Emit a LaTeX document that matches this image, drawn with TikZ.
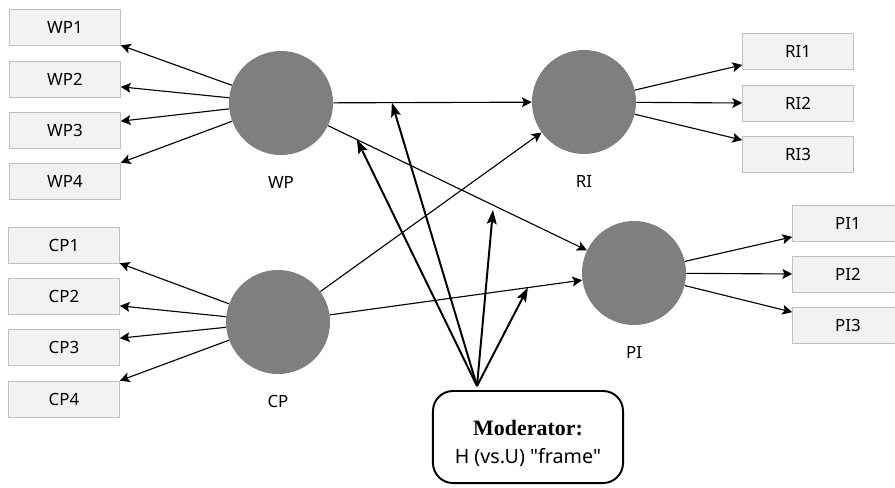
\documentclass[tikz,border=0pt]{standalone}
\usepackage{fontspec}
\setmainfont{Noto Sans}
\newfontfamily\modfont{Liberation Serif}
\usetikzlibrary{arrows.meta,calc}
\definecolor{latent}{RGB}{127,127,127}
\definecolor{boxfill}{RGB}{242,242,242}
\definecolor{boxline}{RGB}{192,192,192}
\tikzset{
  ind/.style={draw=boxline,fill=boxfill,minimum width=2.775cm,minimum height=0.9cm,inner sep=0pt},
  lat/.style={circle,fill=latent,minimum size=2.6cm,inner sep=0pt},
  link/.style={line width=0.8pt,-{Stealth[length=7pt,width=7pt,inset=1.5pt]}},
  modlink/.style={line width=1.4pt,-{Stealth[length=10pt,width=7pt,inset=2pt]}}
}
\begin{document}
\begin{tikzpicture}[x=0.025cm,y=-0.025cm,font=\fontsize{12}{14}\selectfont,
  every label/.style={yshift=-0.4cm}]
\useasboundingbox (0,0) rectangle (895,487);
% indicators
\foreach \n/\y in {1/27,2/79,3/130,4/181}
  \node[ind] (WP\n) at (65,\y) {WP\n};
\foreach \n/\y in {1/245,2/296,3/347,4/399}
  \node[ind] (CP\n) at (64,\y) {CP\n};
\foreach \n/\y in {1/51,2/103,3/154}
  \node[ind] (RI\n) at (798,\y) {RI\n};
\foreach \n/\y in {1/223,2/274,3/325}
  \node[ind] (PI\n) at (848,\y) {PI\n};
% constructs
\node[lat,label=below:WP] (WP) at (281,103) {};
\node[lat,label=below:CP] (CP) at (278,322) {};
\node[lat,label=below:RI] (RI) at (584,102) {};
\node[lat,label=below:PI] (PI) at (634,273) {};
% moderator
\node[draw,line width=1.4pt,rounded corners=0.5cm,minimum width=4.75cm,minimum height=2.3cm,
  align=center,font=\fontsize{14}{20}\selectfont] (mod) at (528,437)
  {\rule{0pt}{20pt}{\modfont\bfseries\fontsize{15.6}{20}\selectfont Moderator:}\\
   H (vs.U) \textquotedbl frame\textquotedbl};
\coordinate (hub) at ($(mod.north)+(-51,-4)$);
\path (WP.center) -- (RI.center) coordinate[pos=0.366] (m1);
\path (WP.center) -- (PI.center) coordinate[pos=0.215] (m2);
\coordinate (m3) at (493,210);
\path (CP.center) -- (PI.center) coordinate[pos=0.702] (m4);
% outer model
\draw[link] (WP) -- (WP1.south east);
\draw[link] (WP) -- (WP2.-8);
\draw[link] (WP) -- (WP3.9);
\draw[link] (WP) -- (WP4.north east);
\draw[link] (CP) -- (CP1.south east);
\draw[link] (CP) -- (CP2.-10);
\draw[link] (CP) -- (CP3.9);
\draw[link] (CP) -- (CP4.north east);
\draw[link] (RI) -- (RI1.194);
\draw[link] (RI) -- (RI2.west);
\draw[link] (RI) -- (RI3.166);
\draw[link] (PI) -- (PI1.194);
\draw[link] (PI) -- (PI2.west);
\draw[link] (PI) -- (PI3.167);
% inner model
\draw[link] (WP) -- (RI);
\draw[link] (WP) -- (PI);
\draw[link] (CP) -- (RI);
\draw[link] (CP) -- (PI);
\foreach \m in {m1,m2,m3,m4}
  \draw[modlink] (hub) -- (\m);
\end{tikzpicture}
\end{document}
